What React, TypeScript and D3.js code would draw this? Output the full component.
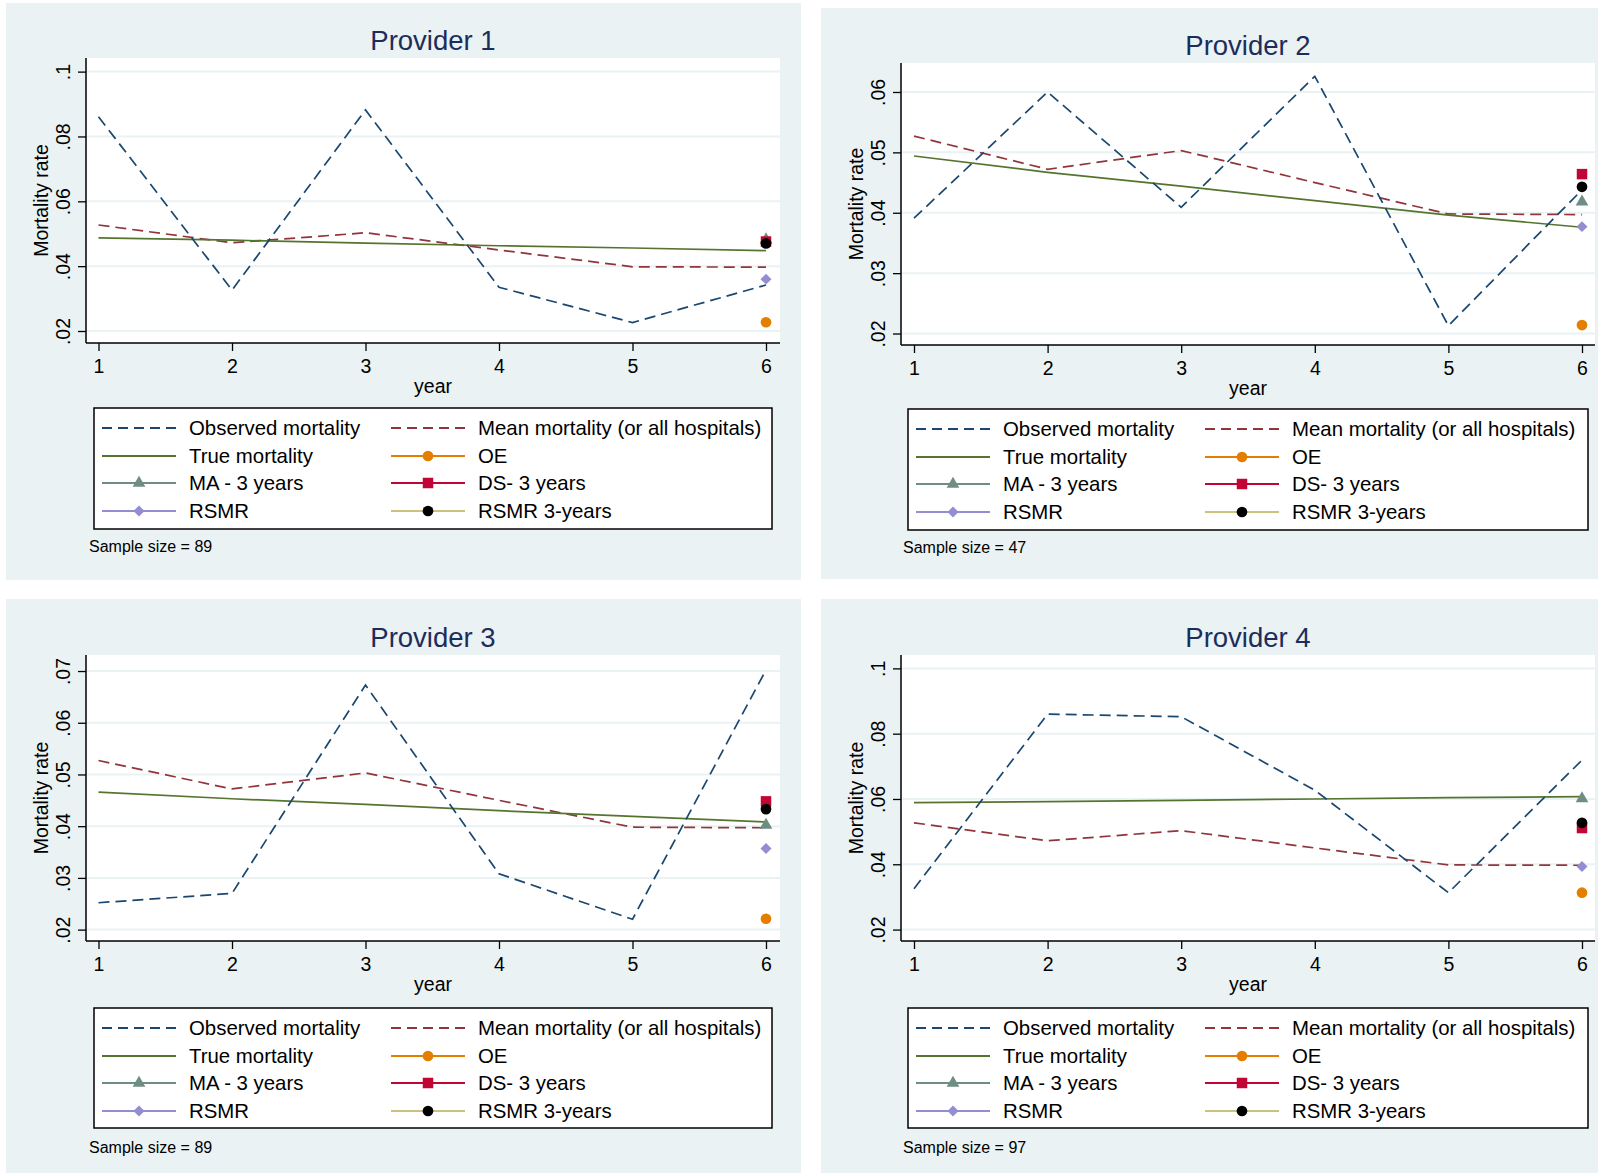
import { useEffect, useRef } from "react";
import * as d3 from "d3";

const years = [1, 2, 3, 4, 5, 6];
const providerNames = ["Provider 1", "Provider 2", "Provider 3", "Provider 4"];
const sampleSizes = [89, 47, 89, 97];

// mean mortality is the same curve in every panel
const meanMortality = [0.0527, 0.0472, 0.0503, 0.045, 0.0398, 0.0397];

const observedP1 = [0.0861, 0.0326, 0.0882, 0.0335, 0.0226, 0.0342];
const observedP2 = [0.0391, 0.06, 0.0409, 0.0626, 0.0213, 0.0438];
const observedP3 = [0.0252, 0.027, 0.0673, 0.0308, 0.022, 0.0702];
const observedP4 = [0.0325, 0.086, 0.0852, 0.0627, 0.0313, 0.0719];

const trueP1 = [0.0487, 0.048, 0.0471, 0.0463, 0.0456, 0.0448];
const trueP2 = [0.0494, 0.0467, 0.0444, 0.042, 0.0396, 0.0376];
const trueP3 = [0.0466, 0.0453, 0.0442, 0.043, 0.0419, 0.0408];
const trueP4 = [0.0589, 0.0592, 0.0596, 0.06, 0.0604, 0.0607];

// year-6 estimates, one value per provider
const oeRates = [0.0227, 0.0214, 0.0221, 0.0313];
const maRates = [0.0482, 0.0418, 0.0402, 0.0601];
const dsRates = [0.0476, 0.0464, 0.0448, 0.0511];
const rsmrRates = [0.036, 0.0377, 0.0357, 0.0393];
const rsmr3Rates = [0.047, 0.0443, 0.0433, 0.0527];

const yTicksP1 = [0.02, 0.04, 0.06, 0.08, 0.1];
const yTicksP2 = [0.02, 0.03, 0.04, 0.05, 0.06];
const yTicksP3 = [0.02, 0.03, 0.04, 0.05, 0.06, 0.07];
const yTicksP4 = [0.02, 0.04, 0.06, 0.08, 0.1];
const yDomains = [
  [0.0163, 0.1042],
  [0.0181, 0.0648],
  [0.0178, 0.0731],
  [0.0165, 0.1041],
];

const observedRates = [observedP1, observedP2, observedP3, observedP4];
const trueRates = [trueP1, trueP2, trueP3, trueP4];
const yTicks = [yTicksP1, yTicksP2, yTicksP3, yTicksP4];

const C = {
  navy: "#1a476f",
  maroon: "#90353b",
  green: "#55752f",
  orange: "#e37e00",
  teal: "#6e8e84",
  cranberry: "#c10534",
  lavender: "#938dd2",
  khaki: "#cac27e",
  bg: "#eaf2f3",
  title: "#1c2d5c",
};

const FONT = "'Liberation Sans', Arial, Helvetica, sans-serif";

// panel frames (pixel layout of the original export)
const panels = [
  { bg: [6, 3, 795, 577], plot: [86, 58, 780, 343], xr: [98.5, 766], titleY: 50, legend: [94, 408, 678, 121], sampleY: 552 },
  { bg: [821, 8, 777, 571], plot: [901, 63, 1595, 345], xr: [914, 1582], titleY: 55, legend: [908, 409, 680, 121], sampleY: 553 },
  { bg: [6, 599, 795, 574], plot: [86, 655, 780, 941], xr: [98.5, 766], titleY: 647, legend: [94, 1008, 678, 120], sampleY: 1153 },
  { bg: [821, 599, 777, 574], plot: [901, 655, 1595, 941], xr: [914, 1582], titleY: 647, legend: [908, 1008, 680, 120], sampleY: 1153 },
];

const legendItems = [
  { label: "Observed mortality", color: C.navy, dash: "10 6", marker: null, mcolor: null },
  { label: "Mean mortality (or all hospitals)", color: C.maroon, dash: "10 6", marker: null, mcolor: null },
  { label: "True mortality", color: C.green, dash: null, marker: null, mcolor: null },
  { label: "OE", color: C.orange, dash: null, marker: "circle", mcolor: C.orange },
  { label: "MA - 3 years", color: C.teal, dash: null, marker: "triangle", mcolor: C.teal },
  { label: "DS- 3 years", color: C.cranberry, dash: null, marker: "square", mcolor: C.cranberry },
  { label: "RSMR", color: C.lavender, dash: null, marker: "diamond", mcolor: C.lavender },
  { label: "RSMR 3-years", color: C.khaki, dash: null, marker: "circle", mcolor: "#000" },
];

const symbolPath = (kind) => {
  if (kind === "circle") return d3.symbol(d3.symbolCircle, 90)();
  if (kind === "square") return d3.symbol(d3.symbolSquare, 110)();
  if (kind === "triangle") return d3.symbol(d3.symbolTriangle, 70)();
  return d3.symbol(d3.symbolSquare, 60)();
};

const App = () => {
  const ref = useRef(null);

  useEffect(() => {
    const svg = d3.select(ref.current).html("");
    const fmt = (v) => d3.format(".2~f")(v).replace(/^0/, "");

    panels.forEach((p, i) => {
      const g = svg.append("g");
      const [l, t, r, b] = p.plot;

      g.append("rect")
        .attr("x", p.bg[0]).attr("y", p.bg[1])
        .attr("width", p.bg[2]).attr("height", p.bg[3])
        .attr("fill", C.bg);

      g.append("rect")
        .attr("x", l).attr("y", t)
        .attr("width", r - l).attr("height", b - t)
        .attr("fill", "#fff");

      const x = d3.scaleLinear().domain([1, 6]).range(p.xr);
      const y = d3.scaleLinear().domain(yDomains[i]).range([b, t]);

      // gridlines
      g.selectAll(".grid")
        .data(yTicks[i])
        .enter()
        .append("line")
        .attr("x1", l).attr("x2", r)
        .attr("y1", (d) => y(d)).attr("y2", (d) => y(d))
        .attr("stroke", C.bg)
        .attr("stroke-width", 2);

      // y axis
      const yAxis = g.append("g")
        .attr("transform", `translate(${l},0)`)
        .call(d3.axisLeft(y).tickValues(yTicks[i]).tickFormat(fmt).tickSizeInner(8).tickSizeOuter(0));
      yAxis.select(".domain").attr("stroke", "#000").attr("stroke-width", 1.5).attr("d", `M0,${t}V${b}`);
      yAxis.selectAll(".tick line").attr("stroke", "#000").attr("stroke-width", 1.3);
      yAxis.selectAll(".tick text")
        .attr("x", 0).attr("dy", null).attr("y", 0)
        .attr("transform", `translate(-23,0) rotate(-90)`)
        .attr("text-anchor", "middle")
        .attr("dominant-baseline", "central")
        .attr("font-family", FONT).attr("font-size", 19.5).attr("fill", "#000");

      // x axis
      const xAxis = g.append("g")
        .attr("transform", `translate(0,${b})`)
        .call(d3.axisBottom(x).tickValues(years).tickFormat(d3.format("d")).tickSizeInner(8).tickSizeOuter(0));
      xAxis.select(".domain").attr("stroke", "#000").attr("stroke-width", 1.5).attr("d", `M${l},0H${r}`);
      xAxis.selectAll(".tick line").attr("stroke", "#000").attr("stroke-width", 1.3);
      xAxis.selectAll(".tick text")
        .attr("y", 23).attr("dy", null)
        .attr("dominant-baseline", "central")
        .attr("font-family", FONT).attr("font-size", 19.5).attr("fill", "#000");

      g.append("text")
        .attr("x", (l + r) / 2).attr("y", b + 43)
        .attr("text-anchor", "middle").attr("dominant-baseline", "central")
        .attr("font-family", FONT).attr("font-size", 19.5)
        .text("year");

      g.append("text")
        .attr("transform", `translate(${l - 45},${(t + b) / 2}) rotate(-90)`)
        .attr("text-anchor", "middle").attr("dominant-baseline", "central")
        .attr("font-family", FONT).attr("font-size", 19.5)
        .text("Mortality rate");

      g.append("text")
        .attr("x", (l + r) / 2).attr("y", p.titleY)
        .attr("text-anchor", "middle")
        .attr("font-family", FONT).attr("font-size", 27.5)
        .attr("fill", C.title)
        .text(providerNames[i]);

      const line = d3.line().x((d, k) => x(years[k])).y((d) => y(d));

      g.append("path").datum(meanMortality)
        .attr("d", line).attr("fill", "none")
        .attr("stroke", C.maroon).attr("stroke-width", 1.7).attr("stroke-dasharray", "11 6");
      g.append("path").datum(trueRates[i])
        .attr("d", line).attr("fill", "none")
        .attr("stroke", C.green).attr("stroke-width", 1.7);
      g.append("path").datum(observedRates[i])
        .attr("d", line).attr("fill", "none")
        .attr("stroke", C.navy).attr("stroke-width", 1.7).attr("stroke-dasharray", "11 6");

      const marks = [
        { v: oeRates[i], kind: "circle", color: C.orange },
        { v: maRates[i], kind: "triangle", color: C.teal },
        { v: dsRates[i], kind: "square", color: C.cranberry },
        { v: rsmrRates[i], kind: "diamond", color: C.lavender },
        { v: rsmr3Rates[i], kind: "circle", color: "#000" },
      ];
      g.selectAll(".mark")
        .data(marks)
        .enter()
        .append("path")
        .attr("d", (d) => symbolPath(d.kind))
        .attr("transform", (d) => `translate(${x(6)},${y(d.v)})${d.kind === "diamond" ? " rotate(45)" : ""}`)
        .attr("fill", (d) => d.color);

      // legend
      const [lx, ly, lw, lh] = p.legend;
      const lg = g.append("g").attr("transform", `translate(${lx},${ly})`);
      lg.append("rect")
        .attr("width", lw).attr("height", lh)
        .attr("fill", "#fff").attr("stroke", "#000").attr("stroke-width", 1.5);
      const rowY = [20, 48, 75, 103];
      legendItems.forEach((it, k) => {
        const col = k % 2;
        const row = Math.floor(k / 2);
        const kx = col === 0 ? 8 : 297;
        const cy = rowY[row];
        lg.append("line")
          .attr("x1", kx).attr("x2", kx + 74)
          .attr("y1", cy).attr("y2", cy)
          .attr("stroke", it.color).attr("stroke-width", 1.8)
          .attr("stroke-dasharray", it.dash);
        if (it.marker) {
          lg.append("path")
            .attr("d", symbolPath(it.marker))
            .attr("transform", `translate(${kx + 37},${cy})${it.marker === "diamond" ? " rotate(45)" : ""}`)
            .attr("fill", it.mcolor);
        }
        lg.append("text")
          .attr("x", kx + 87).attr("y", cy)
          .attr("dominant-baseline", "central")
          .attr("font-family", FONT).attr("font-size", 20.4)
          .text(it.label);
      });

      g.append("text")
        .attr("x", lx - 5).attr("y", p.sampleY)
        .attr("font-family", FONT).attr("font-size", 16)
        .text(`Sample size = ${sampleSizes[i]}`);
    });
  }, []);

  return (
    <div style={{ position: "absolute", left: 0, top: 0 }}>
      <svg ref={ref} width={1598} height={1174} style={{ display: "block", background: "#fff" }}></svg>
    </div>
  );
};

export default App;
